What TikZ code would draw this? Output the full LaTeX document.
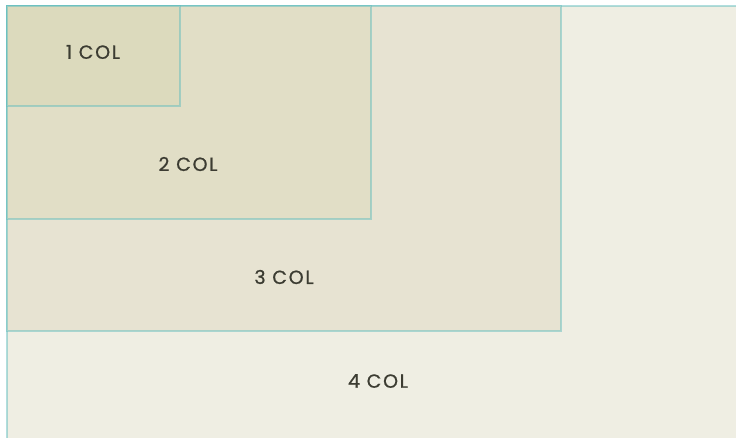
\documentclass[tikz,border=0pt]{standalone}
\usepackage{fontspec}
\setmainfont{Poppins}[LetterSpace=9, FakeBold=0.8]
\definecolor{cA}{RGB}{220,218,189}
\definecolor{cB}{RGB}{225,222,198}
\definecolor{cC}{RGB}{231,227,210}
\definecolor{cD}{RGB}{239,238,227}
\definecolor{edge}{RGB}{100,190,190}
\definecolor{txt}{RGB}{60,60,50}
\tikzset{
  colbox/.style={draw=edge, draw opacity=0.5, line width=2.4pt},
  lbl/.style={text=txt, font=\fontsize{19}{22}\selectfont, inner sep=0pt},
}
\begin{document}
\begin{tikzpicture}[x=1pt,y=-1pt]
\useasboundingbox[fill=white] (0,0) rectangle (736,438);
\begin{scope}
\clip (0,0) rectangle (736,438);
\filldraw[colbox, fill=cD] (7,6) rectangle (760,460);
\filldraw[colbox, fill=cC] (7,6) rectangle (561,331);
\filldraw[colbox, fill=cB] (7,6) rectangle (371,219);
\filldraw[colbox, fill=cA] (7,6) rectangle (180,106);
\end{scope}
\node[lbl] (c1) at (93,52) {1 COL};
\node[lbl] (c2) at (188,164) {2 COL};
\node[lbl] (c3) at (284,277) {3 COL};
\node[lbl] (c4) at (378,381) {4 COL};
\end{tikzpicture}
\end{document}
